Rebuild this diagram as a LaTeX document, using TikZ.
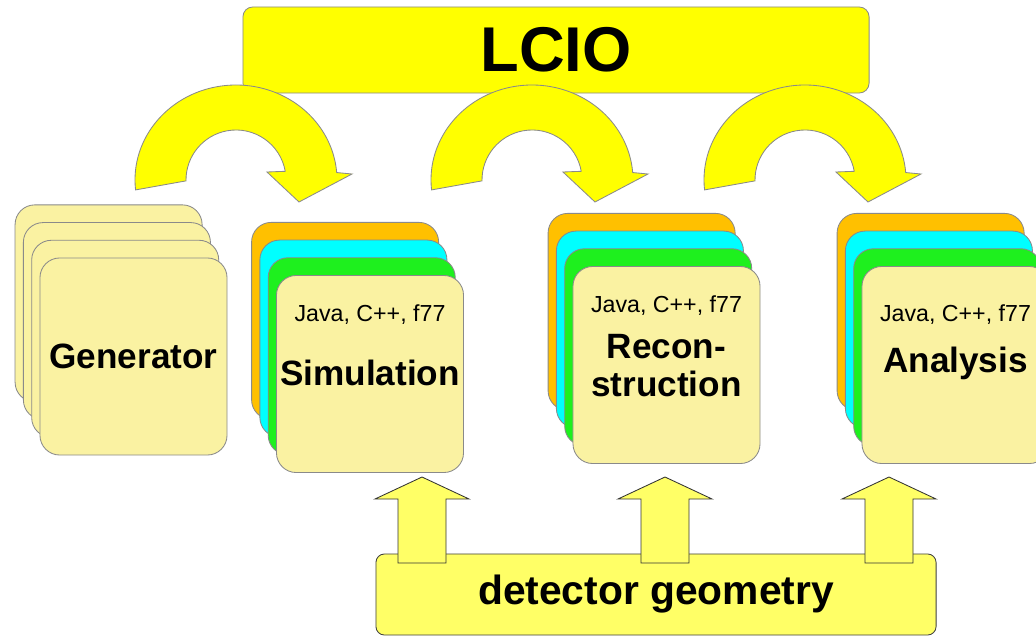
\documentclass[tikz,border=0pt]{standalone}
\usepackage{fontspec}
\setmainfont{Liberation Sans}
\usepackage{tikz}
\usetikzlibrary{positioning}
\definecolor{lcioyellow}{HTML}{FFFF00}
\definecolor{geoyellow}{HTML}{FFFF66}
\definecolor{cardpale}{HTML}{FAF2A2}
\definecolor{cardorange}{HTML}{FFC000}
\definecolor{cardcyan}{HTML}{00FFFF}
\definecolor{cardgreen}{HTML}{1EF01E}
\definecolor{rimgray}{HTML}{8A8A8A}
\newcommand{\stagefont}{\fontsize{25}{27}\selectfont\bfseries}
% curved block arrow, centre of the bend at (#1,#2)
\newcommand{\loopover}[2]{%
  \draw[curlarr, shift={(#1,#2)}] (186:101 and 95)
    arc[start angle=186, end angle=4.5, x radius=101, y radius=95]
    -- (116,6) -- (63,-22) -- (31,8) -- (10:50)
    arc[start angle=10, end angle=181, radius=50] -- cycle;}
% block arrow pointing up, centred at x=#1
\newcommand{\feedup}[1]{%
  \draw[feedarr] (#1-24,-563) -- ++(0,64) -- ++(-23,0) -- ++(47,22)
    -- ++(47,-22) -- ++(-23,0) -- ++(0,-64) -- cycle;}

\begin{document}
\begin{tikzpicture}[
  x=0.025cm, y=0.025cm,
  card/.style={draw=rimgray, line width=0.6pt, rounded corners=14pt, fill=cardpale, minimum width=4.675cm, minimum height=4.925cm, inner sep=0pt},
  lang/.style={font=\fontsize{16.5}{18}\selectfont, inner sep=0pt},
  stage/.style={font=\stagefont, align=center, inner sep=0pt},
  lciobox/.style={draw=rimgray, line width=0.6pt, rounded corners=7pt, fill=lcioyellow, minimum width=15.65cm, minimum height=2.15cm, font=\fontsize{45}{50}\selectfont\bfseries},
  geobox/.style={draw=black!75, line width=0.6pt, rounded corners=6pt, fill=geoyellow, minimum width=14cm, minimum height=2.025cm, font=\fontsize{29}{32}\selectfont\bfseries},
  curlarr/.style={draw=rimgray, line width=0.6pt, fill=lcioyellow},
  feedarr/.style={draw=black!80, line width=0.6pt, fill=geoyellow},
]
  \clip (0,0) rectangle (1036,-636);
  \fill[white] (0,0) rectangle (1036,-636);
  % LCIO on top
  \node[lciobox] (lcio) at (556,-50) {LCIO};
  \loopover{236}{-180}
  \loopover{532}{-180}
  \loopover{805}{-180}
  % generator stack
  \node[card] (gen3) at (108.6,-303.4) {};
  \node[card] (gen2) at (116.9,-321.1) {};
  \node[card] (gen1) at (125.2,-338.8) {};
  \node[card, font=\stagefont] (gen) at (133.5,-356.5) {Generator};
  % simulation stack
  \node[card, fill=cardorange] (simo) at (345.1,-320.9) {};
  \node[card, fill=cardcyan]   (simc) at (353.4,-338.6) {};
  \node[card, fill=cardgreen]  (simg) at (361.7,-356.3) {};
  \node[card] (sim) at (370,-374) {};
  \node[lang]  (simlang) at (370,-315) {Java, C++, f77};
  \node[stage] (simname) at (370,-373) {Simulation};
  % reconstruction stack
  \node[card, fill=cardorange] (reco) at (641.6,-311.9) {};
  \node[card, fill=cardcyan]   (recc) at (649.9,-329.6) {};
  \node[card, fill=cardgreen]  (recg) at (658.2,-347.3) {};
  \node[card] (rec) at (666.5,-365) {};
  \node[lang]  (reclang) at (666.5,-306) {Java, C++, f77};
  \node[stage] (recname) at (666.5,-366) {Recon-\\struction};
  % analysis stack
  \node[card, fill=cardorange] (anao) at (930.6,-311.9) {};
  \node[card, fill=cardcyan]   (anac) at (938.9,-329.6) {};
  \node[card, fill=cardgreen]  (anag) at (947.2,-347.3) {};
  \node[card] (ana) at (955.5,-365) {};
  \node[lang]  (analang) at (955.5,-315) {Java, C++, f77};
  \node[stage] (ananame) at (955.5,-363) {Analysis};
  % detector geometry feeds
  \node[geobox] (geo) at (656,-594.5) {detector geometry};
  \feedup{422}
  \feedup{665}
  \feedup{889}
\end{tikzpicture}
\end{document}
